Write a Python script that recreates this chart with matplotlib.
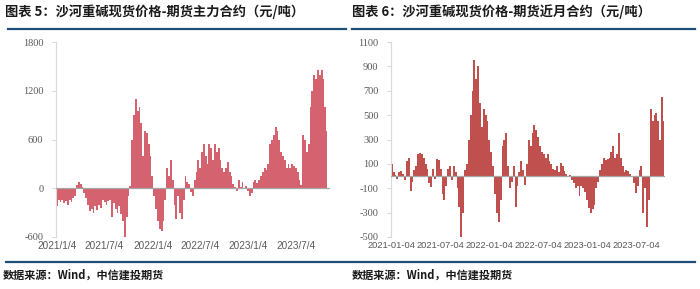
import numpy as np
import pandas as pd
import matplotlib
matplotlib.use("Agg")
import matplotlib.pyplot as plt
from matplotlib.lines import Line2D

plt.rcParams['font.family'] = ['Noto Sans CJK SC', 'DejaVu Sans']

# 周度读数（元/吨），起始 2021-01-04
main_basis = [
    -220, -150, -170, -140, -180, -160, -200, -150, -170, -120, -90,
    40, 80, 50, 10,
    -60, -120, -200, -280, -250, -300, -220, -270, -200, -240, -150, -170, -210, -160,
    -150, -350, -180, -250, -300, -220, -320, -400, -600, -350,
    -100, 30,
    600, 900, 1100, 950, 1000, 800, 400, 700,
    680, 550, 400, 150,
    -100, -250, -400, -500, -530, -400, -150,
    250, 150, 350, 100,
    -200, -380, -100, -300, -380, -150,
    150, 80, 50, -50, -90,
    100, 200, 350, 250, 450, 550, 400, 300, 550, 500, 350, 550, 450, 500, 350,
    250, 200, 250, 320, 200, 150, 50, 10, -30,
    100, 20, 80, 0, 30,
    -30, -100, -60,
    80, 100, 60, 100,
    150, 200, 250, 220, 300,
    550, 600, 650, 750, 700,
    600, 450, 400, 350,
    250, 300, 250, 300, 280, 250, 200,
    100, 40,
    650, 600, 450, 550,
    1000, 1200, 1400, 1350, 1450, 1400, 1450,
    1350, 1000, 700,
]

near_basis = [
    100, 30, 10, -20, 30, 40, 20, -30, 120, 150, -120, -50, 50, 80,
    180, 190, 180, 150, 100, 60, -60, -90, 60, -20, 140, 130, 60,
    -150, -200, -80, 60, 80, -30, 80, 30, -100, -250, -500, -300, 50, 100,
    300, 500, 700, 950, 800, 900, 600, 400, 550, 500, 450, 300, 200, 80,
    -150, -300, -380, -200,
    250, 300, 350, 80,
    -100, -50, 80, -250, -80,
    30, 120, 50, -70,
    100, 300, 250, 350, 420, 380,
    320, 250, 200, 180, 150, 180, 120, 100, 60,
    50, 80, 30, 110, 80, 40, 20,
    -10, 10, -30, -60, -100, -80, -160, -80, -100, -130, -200, -260, -300, -270, -240, -100, -50,
    50, 100, 150, 130, 140, 150, 200, 250, 150, 180, 350, 150,
    80, 30, 50, 40, 20, 0,
    -60, -140, -80,
    50, 80,
    -300, -100, -420, -200,
    550, 450, 500, 520, 450, 300, 650, 450,
]

tick_dates = ['2021-01-04', '2021-07-04', '2022-01-04', '2022-07-04', '2023-01-04', '2023-07-04']
left_ticklabels = ['2021/1/4', '2021/7/4', '2022/1/4', '2022/7/4', '2023/1/4', '2023/7/4']
right_ticklabels = ['2021-01-04', '2021-07-04', '2022-01-04', '2022-07-04', '2023-01-04', '2023-07-04']

title_left = '图表 5：沙河重碱现货价格-期货主力合约（元/吨）'
title_right = '图表 6：沙河重碱现货价格-期货近月合约（元/吨）'
source = '数据来源：Wind，中信建投期货'

fig = plt.figure(figsize=(7.0, 2.89), dpi=100)
W, H = 700, 289


def fx(px):
    return px / W


def fy(py):
    return 1 - py / H


def draw_panel(ax, vals, color, ylim, yticks, ticklabels, xend, xfs):
    dates = pd.date_range('2021-01-04', periods=len(vals), freq='7D')
    ax.fill_between(dates, 0, vals, step='mid', color=color, linewidth=0)
    ax.axhline(0, color='#a6a6a6', lw=0.9, zorder=3)
    ax.set_xlim(pd.Timestamp('2021-01-01'), pd.Timestamp(xend))
    ax.set_ylim(*ylim)
    ax.set_yticks(yticks)
    ax.set_yticklabels([str(v) for v in yticks], family=['Liberation Serif'],
                       fontsize=7.5, color='#595959')
    ax.set_xticks([pd.Timestamp(d) for d in tick_dates])
    ax.set_xticklabels(ticklabels, family=['Liberation Sans'], fontsize=xfs, color='#595959')
    for s in ['top', 'right', 'bottom']:
        ax.spines[s].set_visible(False)
    ax.spines['left'].set_color('#d9d9d9')
    ax.tick_params(axis='y', length=3, color='#d9d9d9', pad=6)
    ax.tick_params(axis='x', length=0, pad=3)
    ax.set_facecolor('none')


ax1 = fig.add_axes([fx(56), fy(237), fx(330 - 56), fy(42) - fy(237)])
draw_panel(ax1, main_basis, '#d5626f', (-600, 1800), [-600, 0, 600, 1200, 1800],
           left_ticklabels, '2023-11-10', 7.2)

ax2 = fig.add_axes([fx(391), fy(237), fx(665 - 391), fy(42) - fy(237)])
draw_panel(ax2, near_basis, '#c0504d', (-500, 1100), list(range(-500, 1101, 200)),
           right_ticklabels, '2023-10-20', 6.7)

# 标题、分隔线、来源
fig.text(fx(5), fy(12), title_left, fontsize=9.5, fontweight='bold', color='#1a1a1a', va='center')
fig.text(fx(352), fy(12), title_right, fontsize=9.5, fontweight='bold', color='#1a1a1a', va='center')
blue = '#1f4e79'
fig.add_artist(Line2D([fx(8), fx(346)], [fy(29), fy(29)], color=blue, lw=1.6))
fig.add_artist(Line2D([fx(352), fx(695)], [fy(29), fy(29)], color=blue, lw=1.6))
fig.add_artist(Line2D([fx(6), fx(695)], [fy(262), fy(262)], color=blue, lw=1.6))
fig.text(fx(3), fy(275), source, fontsize=8, fontweight='bold', color='#1a1a1a', va='center')
fig.text(fx(352), fy(275), source, fontsize=8, fontweight='bold', color='#1a1a1a', va='center')

fig.savefig('out.png', dpi=100)
